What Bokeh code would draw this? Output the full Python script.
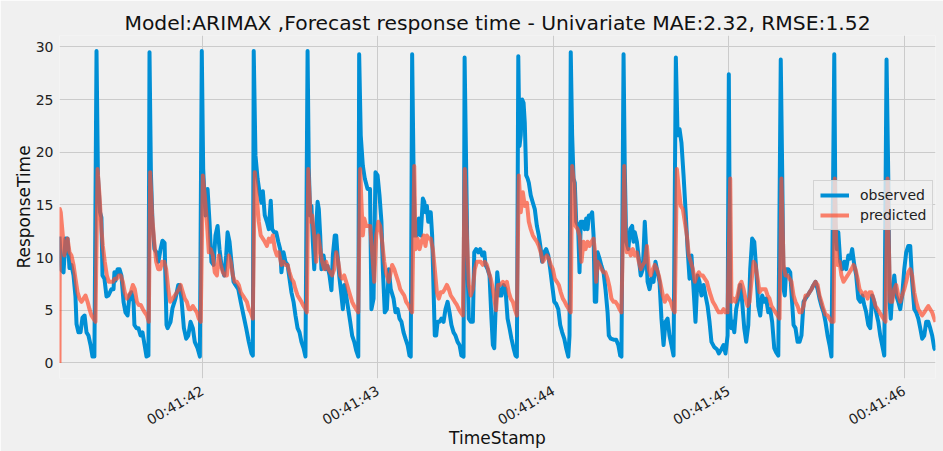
import datetime as dt
import math
from bokeh.plotting import figure
from bokeh.models import Range1d, FixedTicker, DatetimeTickFormatter, Legend, LegendItem
from bokeh.embed import file_html
from bokeh.resources import INLINE

# time offsets in milliseconds after 00:41:41.000
obs_ms = [185,196,208,219,231,242,253,265,276,282,293,305,316,328,339,350,362,373,384,
          396,404,416,424,430,441,453,464,481,493,498,504,516,527,538,550,561,573,584,595,607,612,624,635,647,658,670,681,692,
          698,706,715,726,738,749,761,772,784,795,801,818,829,846,862,869,880,894,907,919,932,945,956,972,985,
          996,1004,1017,1029,1040,1051,1063,1074,1086,1097,1108,1124,1135,1143,1154,1165,1177,1188,1204,1218,1234,1249,1264,1279,1287,
          1292,1302,1314,1325,1336,1344,1355,1367,1378,1389,1397,1409,1420,1432,1443,1450,1462,1473,1485,1496,1507,1519,1530,1542,1553,1564,1576,1587,
          1599,1606,1614,1621,1629,1637,1644,1656,1663,1671,1678,1690,1701,1713,1724,1735,1743,1754,1762,1770,1781,1792,1800,1808,1819,1831,1842,1853,1865,1876,1888,
          1893,1902,1914,1925,1941,1955,1963,1975,1986,1998,2009,2020,2028,2039,2051,2062,2073,2089,2100,2112,2123,2134,2146,2157,2169,2180,2187,
          2195,2203,2210,2222,2233,2244,2256,2264,2271,2279,2287,2294,2301,2309,2317,2324,2332,2340,2351,2362,2374,2385,2397,2408,2419,2431,2442,2454,2465,2476,2488,
          2494,2503,2511,2518,2529,2541,2549,2560,2572,2583,2594,2606,2613,2625,2636,2647,2655,2663,2670,2680,2693,2704,2716,2727,2739,2750,2761,2773,2784,2792,
          2800,2807,2814,2822,2830,2837,2845,2853,2860,2871,2883,2894,2906,2917,2928,2936,2948,2959,2971,2982,2993,3005,3016,3028,3039,3050,3062,3073,3085,3092,
          3099,3107,3115,3122,3130,3141,3149,3156,3168,3179,3187,3195,3202,3213,3221,3229,3236,3244,3252,3263,3274,3286,3297,3309,3316,3327,3343,3358,3370,3381,3388,
          3400,3407,3415,3427,3438,3449,3457,3464,3476,3487,3498,3510,3521,3529,3537,3548,3559,3571,3582,3594,3605,3616,3628,3639,3651,3662,3673,3685,
          3698,3708,3719,3730,3742,3753,3765,3776,3787,3799,3810,3822,3833,3844,3856,3867,3879,3890,3901,3917,3932,3943,3958,3970,3981,3993,
          4000,4008,4015,4023,4031,4042,4054,4065,4076,4088,4099,4111,4122,4133,4145,4156,4168,4179,4190,4202,4213,4225,4236,4247,4259,4270,4282,
          4296,4304,4312,4319,4327,4338,4350,4357,4369,4380,4392,4403,4414,4426,4437,4449,4460,4471,4483,4494,4506,4517,4528,4540,4551,4563,4574,4585,
          4601,4608,4616,4624,4635,4646,4658,4669,4681,4692,4703,4715,4726,4738,4749,4760,4772,4783,4795,4806,4817,4829,4840,4852,4863,4874,4886,
          4899,4909,4916,4923,4931,4943,4954,4966,4977,4988,5000,5011,5023,5034,5045,5057,5068,5080,5091,5102,5114,5125,5137,5148,5159,5171,5178]
obs_val = [12.0,8.8,8.6,11.8,11.8,9.0,9.3,8.3,6.3,3.7,2.9,2.9,4.3,4.5,2.9,2.6,1.7,0.6,0.6,
           29.6,17.8,14.3,13.8,8.3,8.0,6.3,6.4,7.0,7.0,8.6,7.8,8.9,8.9,8.3,5.8,4.8,4.5,6.4,6.7,5.8,3.6,3.3,3.3,2.6,2.9,1.7,0.6,0.7,
           29.5,18.0,13.3,10.8,10.5,9.6,10.8,11.6,11.4,3.6,3.3,3.9,5.2,6.1,7.4,7.4,6.1,3.3,2.3,2.6,3.9,3.3,2.0,1.4,0.6,
           29.6,18.4,14.0,16.5,13.4,9.6,9.3,12.1,13.0,10.8,9.3,8.3,10.2,12.4,11.5,9.6,7.7,7.4,7.0,5.8,4.5,3.3,2.0,0.9,0.7,
           29.6,19.7,17.5,16.2,15.2,16.3,14.0,13.4,12.7,15.4,12.7,12.4,12.4,11.5,10.8,8.6,10.5,9.6,9.3,8.0,6.7,5.8,4.5,3.3,2.9,2.0,1.4,0.6,
           29.6,18.4,14.0,14.9,11.5,8.9,11.5,15.3,14.6,12.1,8.9,10.2,8.9,9.2,8.3,6.9,10.2,12.1,12.1,10.2,8.0,6.4,5.1,7.4,6.4,5.1,3.9,2.6,2.0,1.2,0.6,
           29.3,21.6,18.7,17.5,16.5,16.5,5.1,6.1,18.1,17.8,15.9,13.4,8.9,4.8,5.1,8.9,7.0,6.1,4.8,5.1,4.2,3.9,2.9,2.3,1.7,0.7,0.6,
           29.3,18.4,12.1,12.1,13.7,12.1,15.6,15.3,14.3,14.9,13.4,14.3,14.3,12.1,7.0,2.6,2.6,3.9,3.9,4.2,3.9,5.1,5.8,4.8,3.6,2.9,2.6,2.0,1.7,0.7,0.6,
           29.0,18.4,8.9,4.2,3.9,3.9,10.5,10.8,10.5,10.8,10.2,10.5,9.3,8.9,8.3,4.2,1.7,1.4,4.8,8.6,6.4,6.4,7.4,7.0,4.2,3.3,2.3,1.4,0.7,0.6,
           29.1,20.6,21.6,25.0,24.7,22.8,17.8,17.5,17.1,15.9,15.2,14.6,13.0,12.1,10.8,9.6,10.5,10.8,10.2,8.9,7.4,5.8,5.6,5.1,3.6,2.9,2.3,1.4,0.6,2.6,
           29.5,21.6,17.5,17.1,13.4,13.0,8.6,13.4,13.4,12.7,13.7,12.7,14.0,14.0,14.3,12.1,5.8,5.8,10.5,9.9,9.2,8.6,7.0,4.8,2.6,2.3,2.2,2.2,1.7,0.7,0.6,
           29.3,18.4,11.5,10.8,12.7,13.0,11.5,12.4,11.5,9.9,8.3,8.9,13.4,10.8,7.7,7.0,8.0,7.7,9.6,8.6,7.7,4.2,1.7,3.9,4.2,2.6,1.7,0.7,
           29.0,21.6,22.2,20.9,17.8,14.6,10.8,8.0,10.2,7.0,3.9,8.3,7.7,6.4,7.4,6.4,5.4,3.9,2.0,1.5,1.3,0.9,1.3,1.7,0.9,2.6,
           27.4,4.8,3.3,3.9,2.9,5.1,6.1,7.4,5.8,3.3,2.0,3.6,8.9,11.8,11.5,8.9,5.4,4.5,6.4,5.8,6.1,4.8,5.1,3.9,1.4,1.0,0.7,
           28.8,18.4,7.0,6.4,8.9,8.9,8.6,6.7,3.6,3.3,2.0,2.0,2.6,5.8,6.1,6.4,6.7,7.0,7.4,7.7,7.0,6.1,5.4,4.8,3.9,2.6,1.7,0.6,
           29.3,13.4,10.8,12.4,9.6,8.9,9.6,8.9,10.2,9.9,10.8,9.3,8.3,6.1,5.8,6.4,5.5,4.8,3.6,3.3,6.4,5.8,4.8,3.9,2.6,1.7,0.7,
           28.8,17.5,5.8,4.2,6.4,8.3,6.4,5.8,5.1,6.4,8.9,10.5,11.1,11.1,7.7,5.1,4.8,4.2,3.3,2.3,2.6,3.9,3.9,3.3,2.6,1.4,1.2]

pred_ms = [185,187,192,204,212,219,231,242,253,265,276,288,299,310,322,333,345,356,367,379,390,
           402,413,424,432,443,455,466,477,489,500,512,523,534,546,557,569,580,591,603,614,626,637,648,660,671,683,694,
           702,713,725,736,748,759,770,782,793,805,816,831,842,854,865,876,888,899,911,922,933,945,956,968,979,990,
           1002,1013,1025,1036,1047,1059,1070,1082,1093,1104,1116,1127,1139,1150,1161,1173,1184,1196,1207,1218,1230,1241,1253,1264,1275,1287,
           1298,1310,1321,1332,1344,1355,1367,1378,1389,1401,1412,1424,1435,1450,1462,1473,1485,1496,1507,1519,1530,1542,1553,1564,1576,1587,1595,
           1603,1610,1617,1625,1637,1648,1660,1671,1682,1694,1705,1717,1728,1739,1751,1762,1774,1785,1796,1808,1819,1831,1842,1853,1865,1876,1888,
           1899,1906,1914,1922,1933,1945,1956,1967,1979,1990,2002,2013,2024,2036,2047,2062,2081,2093,2104,2116,2127,2138,2150,2161,2173,2184,2195,
           2207,2214,2226,2237,2248,2260,2271,2279,2290,2301,2313,2324,2336,2347,2358,2370,2381,2393,2404,2415,2427,2438,2450,2461,2472,2484,
           2495,2507,2518,2529,2541,2552,2564,2575,2586,2598,2609,2621,2632,2643,2655,2673,2684,2696,2712,2723,2735,2746,2757,2769,2780,2792,
           2803,2814,2826,2837,2849,2860,2871,2883,2894,2906,2917,2928,2940,2951,2963,2974,2985,2997,3008,3020,3031,3042,3054,3065,3077,3088,3099,
           3107,3119,3126,3138,3149,3160,3172,3183,3195,3206,3217,3229,3236,3244,3252,3263,3274,3286,3297,3309,3320,3331,3343,3354,3366,3377,3388,
           3404,3411,3419,3430,3441,3453,3464,3476,3487,3498,3510,3521,3533,3544,3555,3567,3578,3590,3601,3612,3624,3635,3647,3658,3669,3681,3692,
           3704,3715,3726,3738,3749,3761,3772,3783,3795,3806,3818,3829,3840,3852,3863,3875,3886,3897,3909,3920,3932,3943,3958,3970,3981,3993,
           4008,4015,4027,4038,4050,4061,4072,4084,4095,4107,4118,4129,4141,4152,4164,4175,4186,4198,4209,4221,4232,4243,4255,4266,4278,4289,
           4300,4312,4323,4335,4346,4357,4369,4380,4392,4403,4414,4426,4437,4449,4460,4471,4483,4494,4506,4517,4528,4540,4551,4563,4574,4585,4597,
           4604,4612,4620,4631,4642,4654,4665,4677,4688,4699,4711,4722,4734,4745,4756,4768,4779,4791,4802,4813,4825,4836,4848,4859,4870,4882,4893,
           4905,4912,4920,4931,4943,4954,4966,4977,4988,5000,5011,5023,5034,5045,5057,5068,5080,5091,5102,5114,5125,5137,5148,5159,5171,5178]
pred_val = [0.0,14.6,14.3,12.1,10.2,10.8,11.8,10.5,10.2,9.3,8.0,6.7,6.1,5.8,6.1,6.4,5.8,5.1,4.5,4.2,3.9,
            18.4,15.9,12.7,11.1,9.6,8.3,7.7,7.7,7.7,8.0,8.0,8.3,8.3,7.7,6.7,6.1,6.4,6.7,7.4,7.0,5.8,5.5,5.5,5.1,4.8,4.5,3.9,
            18.1,14.0,11.5,9.6,8.9,8.9,9.6,9.6,8.9,7.0,5.8,6.1,6.4,6.7,7.0,7.4,6.7,6.1,5.8,5.1,5.1,5.4,5.1,4.8,4.2,3.9,
            17.8,15.9,13.4,10.5,10.8,10.2,8.6,8.3,10.2,9.3,8.6,8.3,8.3,10.2,9.6,8.3,7.7,7.7,7.4,6.7,6.4,6.1,5.8,5.1,4.8,4.2,
            18.1,15.6,13.4,12.1,11.8,11.5,11.1,11.8,11.5,12.1,10.8,10.2,10.5,9.3,9.6,9.3,9.3,8.6,8.0,7.7,7.0,6.4,6.1,5.8,5.4,5.1,4.8,
            18.4,15.9,13.4,14.0,12.1,9.6,12.1,10.8,9.6,8.9,9.6,8.9,8.6,8.3,8.9,10.5,9.6,8.3,8.0,8.3,7.7,7.0,6.4,5.8,5.4,5.1,4.8,
            18.4,15.2,12.1,13.7,13.0,13.0,13.0,10.5,7.7,12.1,13.4,13.0,11.5,9.6,8.5,7.7,9.3,8.9,8.3,7.7,7.0,6.7,6.4,5.8,5.5,5.1,4.8,
            18.7,10.8,11.8,10.8,11.5,12.1,11.1,12.1,11.8,11.8,10.8,8.9,6.7,6.1,6.7,6.7,7.0,7.4,7.0,6.4,6.1,5.8,5.5,5.1,4.8,4.5,
            18.4,12.1,7.4,6.4,7.0,8.9,9.6,9.6,9.6,9.3,9.6,9.3,8.6,8.0,7.0,5.0,7.4,7.4,7.7,7.4,7.7,6.7,6.1,5.8,5.1,4.5,
            17.8,14.3,16.2,14.9,15.2,13.4,12.7,12.1,11.8,11.5,11.1,10.5,9.6,9.9,10.2,9.9,9.3,8.9,8.0,7.7,7.4,6.7,6.1,5.8,5.4,5.1,4.8,
            18.7,16.8,13.0,12.7,12.1,9.6,11.5,10.8,11.5,11.1,11.5,11.8,10.8,7.7,9.6,9.3,8.9,8.6,8.6,8.0,7.2,6.1,5.8,5.8,5.5,5.1,4.8,
            18.7,12.1,10.5,10.8,10.2,10.8,10.2,10.5,9.6,8.9,9.3,9.6,11.1,8.9,8.3,8.9,9.3,8.9,8.3,7.4,6.4,5.8,6.4,6.1,5.8,5.1,4.8,
            18.4,16.5,14.9,14.6,13.4,12.1,10.2,9.6,8.9,7.7,8.3,8.6,8.3,8.3,8.0,7.7,7.0,6.4,5.8,5.5,5.1,4.8,4.8,5.1,4.8,4.8,
            17.5,5.8,6.1,5.8,6.4,7.4,7.7,7.0,6.1,5.4,5.8,7.7,9.6,9.3,8.0,6.7,7.0,7.0,7.0,6.4,6.1,5.4,5.1,4.8,4.5,4.2,
            17.5,9.3,8.3,8.3,8.0,7.7,6.4,5.8,5.4,4.8,4.8,5.4,6.4,6.4,6.7,7.0,7.4,7.7,7.4,6.4,5.8,5.1,4.6,4.5,4.2,3.9,3.9,
            17.5,11.5,9.3,9.6,8.3,7.7,8.0,8.3,8.6,8.9,9.3,8.9,8.0,7.0,6.7,6.4,6.7,6.1,6.7,6.7,6.1,5.4,5.1,4.8,4.5,4.2,3.9,
            17.5,11.1,5.8,5.8,7.0,7.4,6.4,5.8,6.4,7.0,7.7,8.6,8.9,8.3,6.7,5.8,5.1,4.8,4.5,4.8,5.1,5.4,5.1,4.8,4.2,3.9]

assert len(obs_ms) == len(obs_val), (len(obs_ms), len(obs_val))
assert len(pred_ms) == len(pred_val), (len(pred_ms), len(pred_val))

tick_seconds = [42, 43, 44, 45, 46]
y_ticks = [0, 5, 10, 15, 20, 25, 30]
title_text = "Model:ARIMAX ,Forecast response time - Univariate MAE:2.32, RMSE:1.52"
x_label = "TimeStamp"
y_label = "ResponseTime"

base = dt.datetime(2019, 1, 1, 0, 41, 41)
epoch = dt.datetime(1970, 1, 1)


def to_ms(offset_ms):
    return (base - epoch).total_seconds() * 1000.0 + offset_ms


obs_x = [base + dt.timedelta(milliseconds=m) for m in obs_ms]
pred_x = [base + dt.timedelta(milliseconds=m) for m in pred_ms]

x_start = to_ms(min(obs_ms[0], pred_ms[0]))
x_end = to_ms(max(obs_ms[-1], pred_ms[-1]))
ymin = min(min(obs_val), min(pred_val))
ymax = max(max(obs_val), max(pred_val))
pad = 0.05 * (ymax - ymin)

FONT = "DejaVu Sans"
BG = "#f0f0f0"

p = figure(width=943, height=451, x_axis_type="datetime",
           output_backend="svg", toolbar_location=None,
           x_range=Range1d(x_start, x_end), y_range=Range1d(ymin - pad, ymax + pad),
           min_border_left=59, min_border_right=8, min_border_top=35, min_border_bottom=73)

p.background_fill_color = BG
p.border_fill_color = BG
p.outline_line_color = None

p.title.text = title_text
p.title.align = "center"
p.title.text_font = FONT
p.title.text_font_size = "20.3px"
p.title.text_font_style = "normal"
p.title.text_color = "#111111"
p.title.standoff = 2

ticks_ms = [to_ms((s - 41) * 1000) for s in tick_seconds]
p.xaxis.ticker = FixedTicker(ticks=ticks_ms)
fmt = "%H:%M:%S"
p.xaxis.formatter = DatetimeTickFormatter(milliseconds=fmt, seconds=fmt, minsec=fmt, minutes=fmt,
                                          hourmin=fmt, hours=fmt, days=fmt, months=fmt, years=fmt)
p.xaxis.major_label_orientation = math.pi / 6
p.yaxis.ticker = FixedTicker(ticks=y_ticks)

for ax in (p.xaxis[0], p.yaxis[0]):
    ax.axis_line_color = None
    ax.major_tick_line_color = None
    ax.minor_tick_line_color = None
    ax.major_tick_out = 0
    ax.major_tick_in = 0
    ax.major_label_text_font = FONT
    ax.major_label_text_font_size = "14px"
    ax.major_label_text_color = "#222222"
    ax.axis_label_text_font = FONT
    ax.axis_label_text_font_size = "17px"
    ax.axis_label_text_font_style = "normal"
    ax.axis_label_text_color = "#111111"

p.xaxis.axis_label = x_label
p.yaxis.axis_label = y_label
p.xaxis.major_label_standoff = 11
p.xaxis.axis_label_standoff = -10
p.yaxis.major_label_standoff = 6
p.yaxis.axis_label_standoff = -1

p.xgrid.grid_line_color = "#cbcbcb"
p.ygrid.grid_line_color = "#cbcbcb"
p.xgrid.grid_line_width = 1
p.ygrid.grid_line_width = 1

r_obs = p.line(obs_x, obs_val, line_color="#008fd5", line_width=4, line_join="round")
r_pred = p.line(pred_x, pred_val, line_color="#fc4f30", line_width=4, line_alpha=0.7, line_join="round")

legend = Legend(items=[LegendItem(label="observed", renderers=[r_obs]),
                       LegendItem(label="predicted", renderers=[r_pred])],
                location=(754, 148))
legend.label_text_font = FONT
legend.label_text_font_size = "14px"
legend.label_text_color = "#222222"
legend.glyph_width = 29
legend.glyph_height = 14
legend.label_standoff = 11
legend.spacing = 4
legend.padding = 6
legend.margin = 0
legend.border_line_color = "#cccccc"
legend.border_line_alpha = 0.8
legend.background_fill_color = BG
legend.background_fill_alpha = 0.8
p.add_layout(legend)

open("out.html", "w").write(file_html(p, INLINE))
